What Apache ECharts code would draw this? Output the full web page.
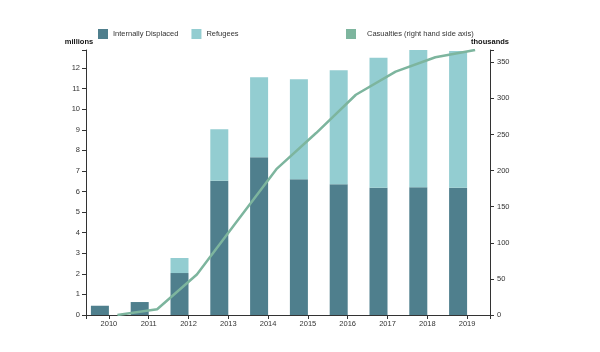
<!DOCTYPE html>
<html>
<head>
<meta charset="utf-8">
<script src="https://cdn.jsdelivr.net/npm/echarts@6/dist/echarts.min.js"></script>
<style>
  html, body { margin: 0; padding: 0; background: #fff; }
  #chart { width: 600px; height: 352px; }
</style>
</head>
<body>
<div id="chart"></div>
<script>
const years = ['2010', '2011', '2012', '2013', '2014', '2015', '2016', '2017', '2018', '2019']
const displaced = [0.45, 0.63, 2.04, 6.53, 7.67, 6.60, 6.36, 6.18, 6.21, 6.18]
const refugees = [0, 0, 0.73, 2.50, 3.88, 4.86, 5.53, 6.32, 6.67, 6.65]
const casualties = [0, 8, 56, 129, 202, 252, 305, 337, 357, 367]

const totals = displaced.map((v, i) => v + refugees[i])
const leftMax = Math.max(...totals)
const rightMax = Math.max(...casualties)

const font = '"Liberation Sans", Arial, sans-serif'
const ink = '#333'
const colors = { displaced: '#4f7f8d', refugees: '#93cdd1', casualties: '#7db59e' }

const chart = echarts.init(document.getElementById('chart'), null, { renderer: 'canvas' })

const lineAxis = { show: true, lineStyle: { color: ink, width: 1 } }
const tick = { show: true, length: 4, lineStyle: { color: ink } }
const label = { color: ink, fontSize: 7.5, fontFamily: font }

chart.setOption({
  animation: false,
  textStyle: { fontFamily: font },
  grid: [
    { left: 86, width: 404, top: 50, height: 265 },   // axes frame
    { left: 89, width: 398, top: 50, height: 265 },   // bars
    { left: 97.5, width: 397.5, top: 50, height: 265 } // line
  ],
  legend: [
    {
      data: ['Internally Displaced', 'Refugees'],
      left: 93, top: 24,
      itemWidth: 10, itemHeight: 10, itemGap: 13,
      icon: 'rect',
      textStyle: { fontSize: 7.5, color: ink, fontFamily: font },
      selectedMode: false
    },
    {
      data: ['Casualties (right hand side axis)'],
      left: 341, top: 24,
      itemWidth: 10, itemHeight: 10,
      icon: 'rect',
      textStyle: { fontSize: 7.5, color: ink, fontFamily: font, padding: [0, 0, 0, 6] },
      selectedMode: false
    }
  ],
  xAxis: [
    {
      gridIndex: 0, type: 'value', min: 0, max: 1, interval: 1,
      axisLine: lineAxis, axisTick: tick,
      axisLabel: { show: false }, splitLine: { show: false }
    },
    {
      gridIndex: 1, type: 'category', data: years,
      axisLine: { show: false },
      axisTick: { show: true, alignWithLabel: true, length: 4, lineStyle: { color: ink } },
      axisLabel: { ...label, interval: 0, margin: 5 }
    },
    { gridIndex: 2, type: 'category', data: years, show: false }
  ],
  yAxis: [
    {
      gridIndex: 0, type: 'value', position: 'left', min: 0, max: leftMax, interval: 1,
      name: 'millions', nameLocation: 'end', nameGap: 4,
      nameTextStyle: { fontSize: 7.5, fontWeight: 'bold', color: '#111', fontFamily: font, padding: [0, 14, 0, 0] },
      axisLine: lineAxis, axisTick: tick,
      axisLabel: { ...label, margin: 6, formatter: v => Number.isInteger(v) ? v : '' },
      splitLine: { show: false }
    },
    {
      gridIndex: 0, type: 'value', position: 'right', min: 0, max: rightMax, interval: 50,
      name: 'thousands', nameLocation: 'end', nameGap: 4,
      nameTextStyle: { fontSize: 7.5, fontWeight: 'bold', color: '#111', fontFamily: font },
      axisLine: lineAxis, axisTick: tick,
      axisLabel: { ...label, margin: 7, formatter: v => v % 50 === 0 ? v : '' },
      splitLine: { show: false }
    },
    { gridIndex: 1, type: 'value', min: 0, max: leftMax, show: false },
    { gridIndex: 2, type: 'value', min: 0, max: rightMax, show: false }
  ],
  series: [
    {
      name: 'Internally Displaced', type: 'bar', xAxisIndex: 1, yAxisIndex: 2,
      stack: 'people', barWidth: 18, barGap: '0%',
      itemStyle: { color: colors.displaced },
      data: displaced
    },
    {
      name: 'Refugees', type: 'bar', xAxisIndex: 1, yAxisIndex: 2,
      stack: 'people', barWidth: 18, barGap: '0%',
      itemStyle: { color: colors.refugees },
      data: refugees
    },
    {
      // empty column so the real bars sit left of the tick
      name: 'pad', type: 'bar', xAxisIndex: 1, yAxisIndex: 2,
      stack: 'pad', barWidth: 18, barGap: '0%',
      itemStyle: { color: 'rgba(0,0,0,0)' },
      data: []
    },
    {
      name: 'Casualties (right hand side axis)', type: 'line', xAxisIndex: 2, yAxisIndex: 3,
      symbol: 'none', z: 5,
      itemStyle: { color: colors.casualties },
      lineStyle: { color: colors.casualties, width: 2.5 },
      data: casualties
    }
  ]
})
</script>
</body>
</html>
